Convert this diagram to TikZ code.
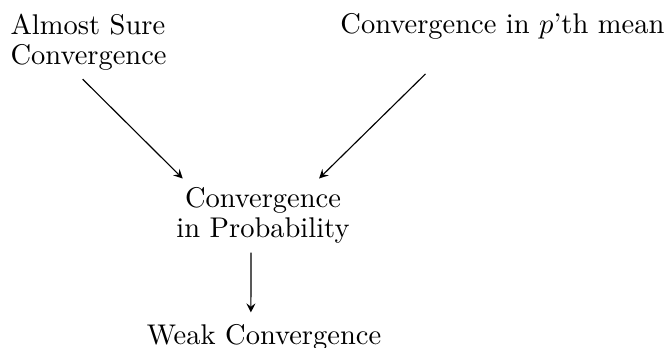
\documentclass[tikz,border=0pt]{standalone}
\begin{document}
\begin{tikzpicture}[
      x=0.3509pt,
      y=-0.3509pt,
      >=stealth,
      every node/.style={inner sep=3pt, font=\fontsize{10}{10.5}\selectfont}
    ]

    % --- 1. 枠 ---
    \useasboundingbox (0, 0) rectangle (667, 347);

    % --- 2. 収束の種類 ---
    \node[anchor=north west, align=left] (as) at (1.5, 4.7) {Almost Sure\\Convergence};
    \node[anchor=base east] (pm) at (673.5, 33) {Convergence in $p$'th mean};
    \node[anchor=north, align=center] (cp) at (263, 178.5) {Convergence\\in Probability};
    \node[anchor=base] (wc) at (264, 344.5) {Weak Convergence};

    % --- 3. 矢印 ---
    \draw[->] ([xshift=-2.1pt]as.south) -- ([xshift=5.4pt]cp.north west);
    \draw[->] ([xshift=-27pt, yshift=-9.1pt]pm.south) -- ([xshift=-13.9pt]cp.north east);
    \draw[->] ([xshift=-4.2pt]cp.south) -- ([xshift=-4.6pt, yshift=1pt]wc.north);

  \end{tikzpicture}
\end{document}
